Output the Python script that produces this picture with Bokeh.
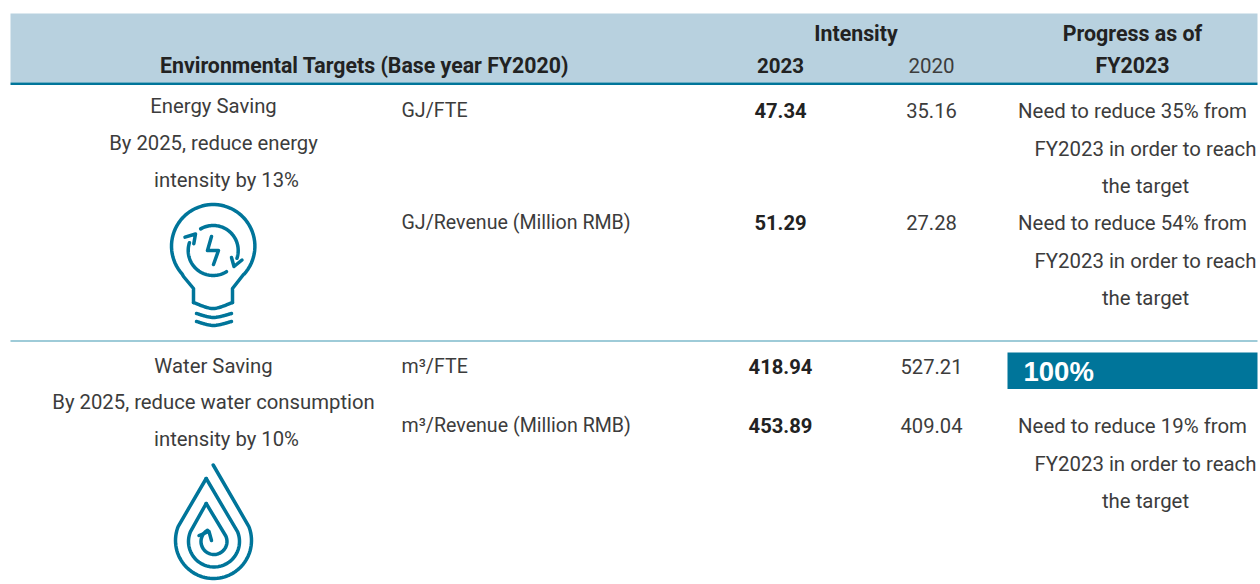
from bokeh.plotting import figure
from bokeh.embed import file_html
from bokeh.resources import INLINE
from bokeh.core.properties import value
import numpy as np

# ---- table content ----
title = "Environmental Targets (Base year FY2020)"
group_head = "Intensity"
years = ["2023", "2020"]
progress_head = ["Progress as of", "FY2023"]
target_lines = ["Energy Saving", "By 2025, reduce energy", "intensity by 13%",
                "Water Saving", "By 2025, reduce water consumption", "intensity by 10%"]
units = ["GJ/FTE", "GJ/Revenue (Million RMB)", "m³/FTE", "m³/Revenue (Million RMB)"]
values_2023 = ["47.34", "51.29", "418.94", "453.89"]
values_2020 = ["35.16", "27.28", "527.21", "409.04"]
progress_lines = ["Need to reduce 35% from", "FY2023 in order to reach", "the target",
                  "Need to reduce 54% from", "FY2023 in order to reach", "the target",
                  "Need to reduce 19% from", "FY2023 in order to reach", "the target"]
done_label = "100%"

TEAL = "#00759a"
BAND = "#b8d1df"
INK = "#3c3c3c"
DARK = "#222222"
FONT = "Roboto"

p = figure(width=1260, height=584, x_range=(0, 1260), y_range=(584, 0),
           output_backend="svg", toolbar_location=None, min_border=0,
           background_fill_color="white", border_fill_color="white")
p.axis.visible = False
p.grid.visible = False
p.outline_line_color = None


def put(xs, ys, texts, size, align="left", bold=False, color=None, font=FONT):
    p.text(xs, ys, text=texts, text_font=value(font), text_font_size=f"{size}px",
           text_font_style="bold" if bold else "normal", text_align=align,
           text_baseline="middle", text_color=color or (DARK if bold else INK))


# bands and rules
p.quad(left=[10], right=[1257], top=[13], bottom=[82], fill_color=BAND, line_color=None)
p.quad(left=[10], right=[1257], top=[82], bottom=[84.5], fill_color=TEAL, line_color=None)
p.quad(left=[10], right=[1257], top=[340], bottom=[341], fill_color="#3f97b2", line_color=None)
p.quad(left=[1007], right=[1257], top=[352], bottom=[388.5], fill_color=TEAL, line_color=None)

# header
put([364], [65], [title], 21.3, "center", True)
put([855.5], [33], [group_head], 21.3, "center", True)
put([780], [65], [years[0]], 20.5, "center", True)
put([931], [65], [years[1]], 20.5, "center")
put([1132, 1132], [33, 65], progress_head, 21.4, "center", True)

# target column
put([213, 213, 226, 213, 213, 226], [105, 142, 179, 365, 401, 438], target_lines, 20.3, "center")

# rows
row_y = [110, 222, 366, 425]
put([401] * 4, row_y, units, 19.6)
put([780, 780, 780, 780], row_y, values_2023, 20.2, "center", True)
put([931, 931, 931, 931], row_y, values_2020, 20.2, "center")

put([1132, 1145, 1145, 1132, 1145, 1145, 1132, 1145, 1145],
    [110, 148, 185, 222, 260, 297, 425, 463, 500], progress_lines, 20.4, "center")
put([1023], [371], [done_label], 27.5, "left", True, "white", "Liberation Sans")


# ---- icons (pictograms, not data) ----
def arc(cx, cy, r, a0, a1, n=60):
    t = np.radians(np.linspace(a0, a1, n))
    return list(cx + r * np.cos(t)), list(cy + r * np.sin(t))


def spline(pts, n=14):
    P = np.array([pts[0]] + pts + [pts[-1]], float)
    out = []
    for i in range(1, len(P) - 2):
        for t in np.linspace(0, 1, n, endpoint=False):
            a, b, c, d = P[i - 1], P[i], P[i + 1], P[i + 2]
            out.append(0.5 * (2 * b + (c - a) * t + (2 * a - 5 * b + 4 * c - d) * t * t
                              + (3 * b - a - 3 * c + d) * t ** 3))
    out.append(P[-2])
    out = np.array(out)
    return list(out[:, 0]), list(out[:, 1])


def stroke(path, w=3.5):
    p.line(path[0], path[1], line_color=TEAL, line_width=w, line_cap="round", line_join="round")


def seg(*pts):
    a = np.array(pts, float)
    return list(a[:, 0]), list(a[:, 1])


def join(*paths):
    return ([x for q in paths for x in q[0]], [y for q in paths for y in q[1]])


# bulb
cx, cy, r = 212.7, 245.7, 41.7
stroke(join(seg((193, 302), (193, 288), (183, 276)), arc(cx, cy, r, 138, 402),
            seg((243, 274), (232, 288), (232, 302))))
stroke(spline([(193, 302), (212.5, 308), (232, 302)]))
stroke(spline([(196, 313), (213, 317), (231, 313)]))
stroke(spline([(196, 321), (213, 325), (231, 321)]))
ix, iy, ir = 212.7, 250, 25
stroke(arc(ix, iy, ir, -120, 18))
stroke(arc(ix, iy, ir, 58, 198))
stroke(seg((184.5, 236.7), (195, 233.5), (193.3, 243.3)))
stroke(seg((231, 257), (233.5, 266), (241.5, 259.5)))
stroke(seg((211, 236), (207, 250), (218, 250), (213, 264)))

# drop
stroke(join(seg((212.7, 464.5)), arc(213, 540, 38, -22, 202), seg((205.7, 478))))
stroke(join(seg((205.7, 478)), arc(213.5, 541, 25.5, -22, 202), seg((205.7, 503))))
stroke(join(seg((205.7, 503)), arc(213.5, 541, 13, -25, 240, 40)))
stroke(seg((198.5, 535), (208.5, 531), (211, 540)))

open("out.html", "w").write(file_html(p, INLINE))
